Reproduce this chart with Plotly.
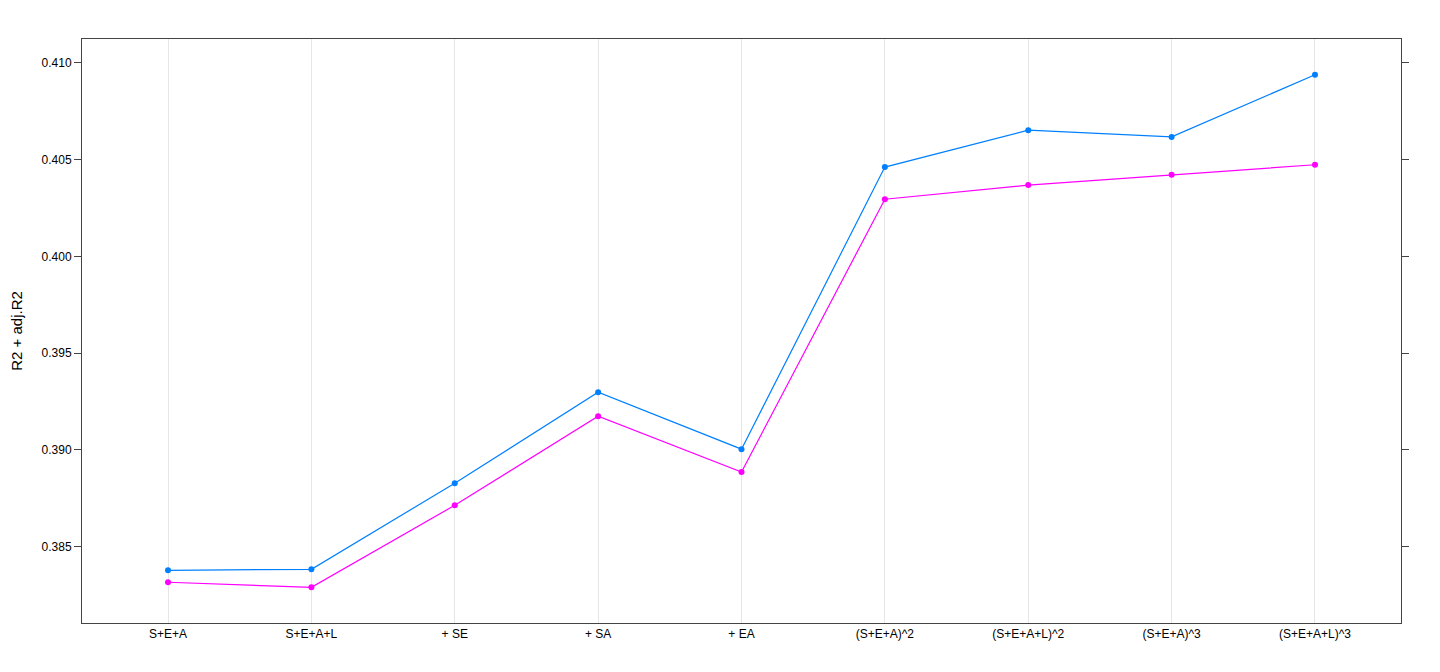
import plotly.graph_objects as go

# model formulas on the x axis
models = ["S+E+A", "S+E+A+L", "+ SE", "+ SA", "+ EA",
          "(S+E+A)^2", "(S+E+A+L)^2", "(S+E+A)^3", "(S+E+A+L)^3"]

r2 = [0.38378, 0.38383, 0.38828, 0.39298, 0.39004,
      0.40462, 0.40653, 0.40618, 0.40939]
adj_r2 = [0.38316, 0.38290, 0.38714, 0.39174, 0.38886,
          0.40296, 0.40369, 0.40422, 0.40474]

y_ticks = [0.385, 0.390, 0.395, 0.400, 0.405, 0.410]

xpos = list(range(len(models)))

fig = go.Figure()

fig.add_trace(go.Scatter(
    x=xpos, y=r2, mode="lines+markers", name="R2",
    line=dict(color="#0080ff", width=1.2),
    marker=dict(color="#0080ff", size=6),
))
fig.add_trace(go.Scatter(
    x=xpos, y=adj_r2, mode="lines+markers", name="adj.R2",
    line=dict(color="#ff00ff", width=1.2),
    marker=dict(color="#ff00ff", size=6),
))

# page body has an 8px margin, so the figure is a bit smaller than the window
fig.update_layout(
    width=1424, height=656,
    margin=dict(l=74, r=31, t=31, b=41),
    plot_bgcolor="white", paper_bgcolor="white",
    showlegend=False,
    font=dict(family="Liberation Sans, Arial, sans-serif", size=12, color="black"),
    xaxis=dict(
        tickmode="array", tickvals=xpos, ticktext=models,
        range=[-0.6, 8.6], automargin=False,
        showgrid=True, gridcolor="#e6e6e6", gridwidth=1,
        showline=True, linecolor="#444444", linewidth=1, mirror=True,
        ticks="", zeroline=False,
    ),
    yaxis=dict(
        title=dict(text="R2 + adj.R2", font=dict(size=15)),
        tickmode="array", tickvals=y_ticks,
        ticktext=[f"{v:.3f}" for v in y_ticks],
        range=[0.381055, 0.41124], automargin=False,
        showgrid=False, zeroline=False,
        showline=True, linecolor="#444444", linewidth=1, mirror="allticks",
        ticks="outside", ticklen=7, tickcolor="#444444",
    ),
)

fig.write_html("out.html")
